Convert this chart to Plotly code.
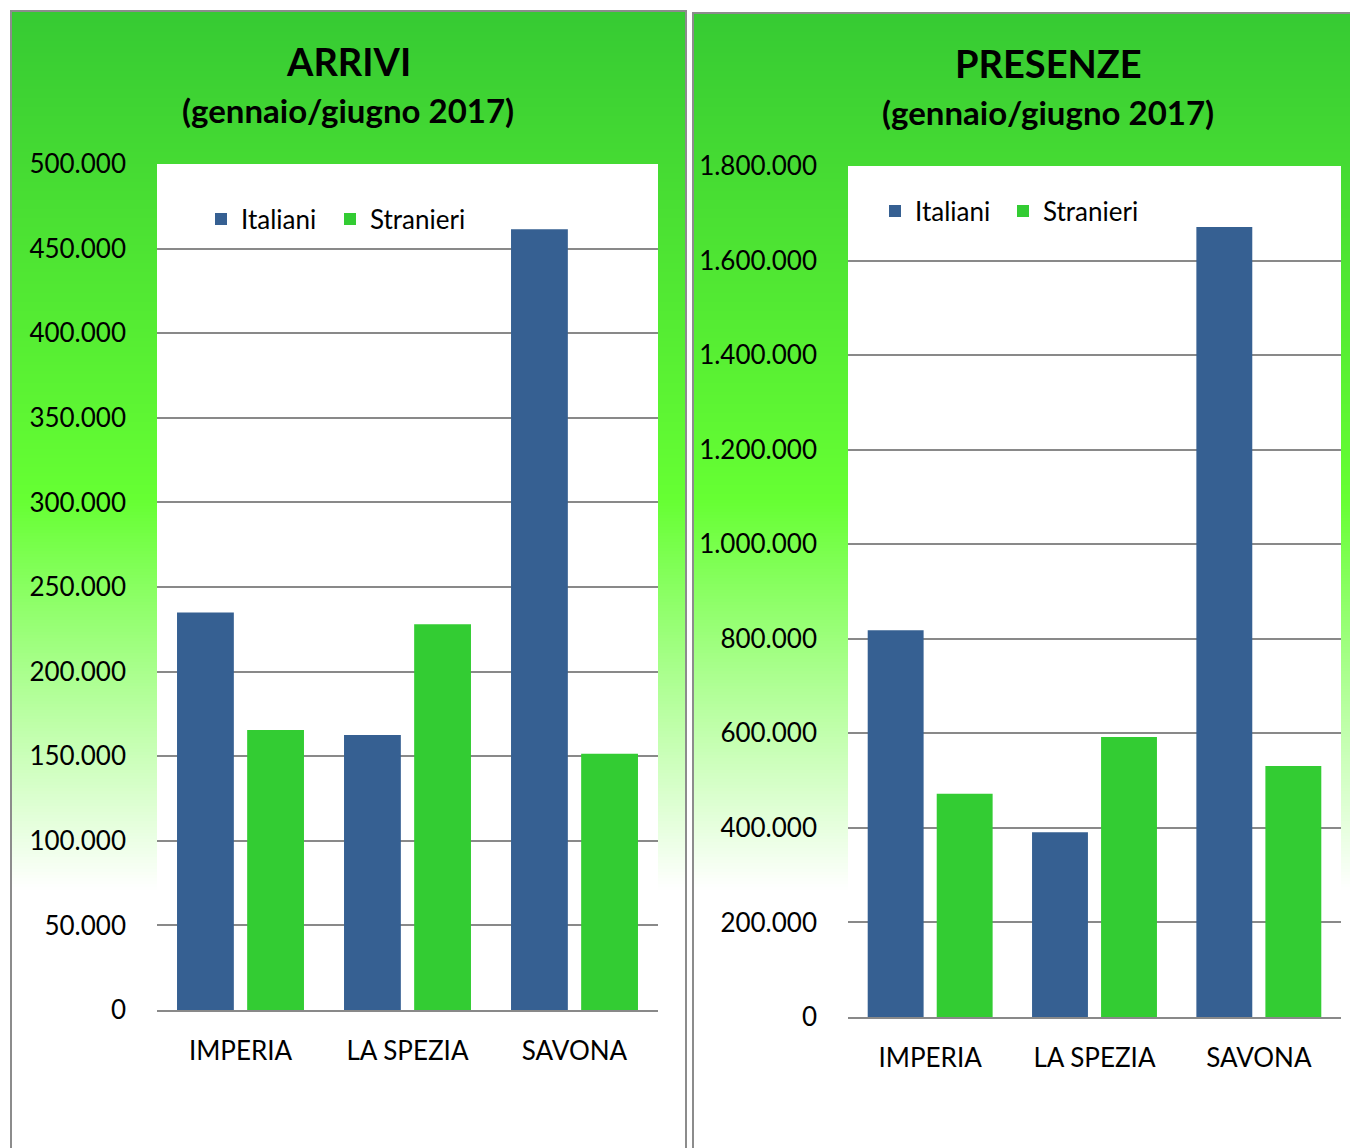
import plotly.graph_objects as go

# ---------------- data ----------------
categories = ["IMPERIA", "LA SPEZIA", "SAVONA"]
series_names = ["Italiani", "Stranieri"]
arrivi_italiani = [235000, 162500, 461500]
arrivi_stranieri = [165500, 228000, 151500]
presenze_italiani = [818000, 391000, 1671000]
presenze_stranieri = [472000, 592000, 531000]
arrivi_ticks = list(range(0, 500001, 50000))
presenze_ticks = list(range(0, 1800001, 200000))
title_left = ["ARRIVI", "(gennaio/giugno 2017)"]
title_right = ["PRESENZE", "(gennaio/giugno 2017)"]

# ---------------- style ----------------
W, H = 1350, 1148
BLUE = "#366092"
GREEN = "#33cc33"
GRID = "#898989"
FONT = "Lato"


def px(xp):
    return xp / W


def py(yp):
    return 1 - yp / H


stops = [(10, (54, 202, 51)), (500, (102, 255, 51)), (890, (255, 255, 255))]


def color_at(y):
    if y <= stops[0][0]:
        c = stops[0][1]
    elif y >= stops[-1][0]:
        c = stops[-1][1]
    else:
        for (y0, c0), (y1, c1) in zip(stops[:-1], stops[1:]):
            if y0 <= y <= y1:
                t = (y - y0) / (y1 - y0)
                c = tuple(round(a + (b - a) * t) for a, b in zip(c0, c1))
                break
    return "rgb(%d,%d,%d)" % c


shapes = []
step = 3
for y in range(11, 900, step):
    shapes.append(dict(type="rect", xref="paper", yref="paper", layer="below",
                       x0=px(10), x1=px(1352), y0=py(y + step + 1), y1=py(y),
                       fillcolor=color_at(y + step / 2), line=dict(width=0)))
# gap between panels and top of right panel
shapes.append(dict(type="rect", xref="paper", yref="paper", layer="below",
                   x0=px(687), x1=px(692), y0=py(1200), y1=py(0),
                   fillcolor="white", line=dict(width=0)))
shapes.append(dict(type="rect", xref="paper", yref="paper", layer="below",
                   x0=px(687), x1=px(1360), y0=py(13), y1=py(0),
                   fillcolor="white", line=dict(width=0)))
# white plot areas
shapes.append(dict(type="rect", xref="paper", yref="paper", layer="below",
                   x0=px(157), x1=px(658), y0=py(1010), y1=py(164),
                   fillcolor="white", line=dict(width=0)))
shapes.append(dict(type="rect", xref="paper", yref="paper", layer="below",
                   x0=px(848), x1=px(1341), y0=py(1017), y1=py(166),
                   fillcolor="white", line=dict(width=0)))
# panel borders
shapes.append(dict(type="rect", xref="paper", yref="paper", layer="below",
                   x0=px(11), x1=px(686), y0=py(1200), y1=py(11),
                   fillcolor="rgba(0,0,0,0)", line=dict(color="#8c8c8c", width=2)))
shapes.append(dict(type="rect", xref="paper", yref="paper", layer="below",
                   x0=px(693), x1=px(1400), y0=py(1200), y1=py(13),
                   fillcolor="rgba(0,0,0,0)", line=dict(color="#8c8c8c", width=2)))

fig = go.Figure()
fig.add_trace(go.Bar(x=categories, y=arrivi_italiani, name=series_names[0],
                     marker=dict(color=BLUE, line=dict(width=0)),
                     xaxis="x", yaxis="y", legend="legend"))
fig.add_trace(go.Bar(x=categories, y=arrivi_stranieri, name=series_names[1],
                     marker=dict(color=GREEN, line=dict(width=0)),
                     xaxis="x", yaxis="y", legend="legend3"))
fig.add_trace(go.Bar(x=categories, y=presenze_italiani, name=series_names[0],
                     marker=dict(color=BLUE, line=dict(width=0)),
                     xaxis="x2", yaxis="y2", legend="legend2"))
fig.add_trace(go.Bar(x=categories, y=presenze_stranieri, name=series_names[1],
                     marker=dict(color=GREEN, line=dict(width=0)),
                     xaxis="x2", yaxis="y2", legend="legend4"))

tickfont = dict(family=FONT, size=26, color="black")

xcommon = dict(showline=True, linecolor=GRID, linewidth=2, ticks="", showgrid=False,
               zeroline=False, tickfont=tickfont, ticklabelstandoff=17, fixedrange=True,
               automargin=False)
ycommon = dict(showline=False, ticks="", showgrid=True, gridcolor=GRID, gridwidth=2,
               zeroline=False, tickfont=tickfont, tickformat=",d",
               ticklabelstandoff=30, fixedrange=True, automargin=False)

annotations = []
for (t1, t2), cx, y1, y2 in [(title_left, 348, 61, 110), (title_right, 1048, 63, 112)]:
    annotations.append(dict(text="<b>%s</b>" % t1, x=px(cx), y=py(y1), xref="paper", yref="paper",
                            showarrow=False, xanchor="center", yanchor="middle",
                            font=dict(family=FONT, size=38, color="black")))
    annotations.append(dict(text="<b>%s</b>" % t2, x=px(cx), y=py(y2), xref="paper", yref="paper",
                            showarrow=False, xanchor="center", yanchor="middle",
                            font=dict(family=FONT, size=33, color="black")))

legfont = dict(family=FONT, size=26, color="black")


def leg(xp, yp):
    return dict(orientation="h", x=px(xp), y=py(yp), xanchor="left", yanchor="middle",
                font=legfont, bgcolor="rgba(0,0,0,0)", traceorder="normal")


fig.update_layout(
    template="none",
    width=W, height=H,
    autosize=False,
    margin=dict(l=0, r=0, t=0, b=0, pad=0, autoexpand=False),
    paper_bgcolor="white", plot_bgcolor="white",
    separators=",.",
    barmode="group", bargap=0.16, bargroupgap=0.19,
    showlegend=True,
    xaxis=dict(domain=[px(157), px(658)], anchor="y", **xcommon),
    yaxis=dict(domain=[py(1010), py(164)], anchor="x", range=[0, 500000],
               tickvals=arrivi_ticks, **ycommon),
    xaxis2=dict(domain=[px(848), px(1341)], anchor="y2", **xcommon),
    yaxis2=dict(domain=[py(1017), py(166)], anchor="x2", range=[0, 1800000],
                tickvals=presenze_ticks, **ycommon),
    legend=leg(201, 219),
    legend3=leg(330, 219),
    legend2=leg(875, 211),
    legend4=leg(1003, 211),
    shapes=shapes,
    annotations=annotations,
)

fig.write_html("out.html", config={"displayModeBar": False},
               post_script="document.body.style.margin='0';document.body.style.padding='0';"
                           "document.body.style.overflow='hidden';")
